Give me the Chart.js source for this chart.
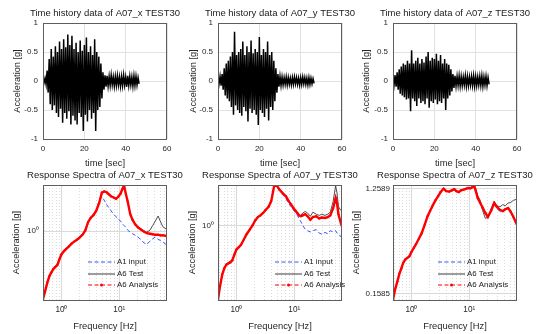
<!DOCTYPE html>
<html>
<head>
<meta charset="utf-8">
<script src="https://cdn.jsdelivr.net/npm/chart.js@4.4.0/dist/chart.umd.min.js"></script>
<style>
  body { margin: 0; background: #fff; width: 539px; height: 334px; overflow: hidden; position: relative; }
  canvas { position: absolute; }
</style>
</head>
<body>
<canvas id="thx"></canvas>
<canvas id="thy"></canvas>
<canvas id="thz"></canvas>
<canvas id="rsx"></canvas>
<canvas id="rsy"></canvas>
<canvas id="rsz"></canvas>
<script>
// ---- time history: peak values per 1 s bin (positive at t, negative at t+0.5) ----
const histSeconds = [0,1,2,3,4,5,6,7,8,9,10,11,12,13,14,15,16,17,18,19,20,21,22,23,24,25,26,27,28,29,30,31,32,33,34,35,36,37,38,39,40,41,42,43,44,45,46];
const xPos = [0.03,0.05,0.18,0.38,0.55,0.42,0.6,0.5,0.68,0.55,0.72,0.58,0.8,0.62,0.78,0.55,0.66,0.5,0.7,0.52,0.62,0.75,0.5,0.6,0.45,0.72,0.5,0.42,0.3,0.15,0.1,0.09,0.08,0.1,0.07,0.08,0.09,0.07,0.08,0.1,0.07,0.09,0.08,0.07,0.09,0.08,0.06];
const xNeg = [-0.03,-0.06,-0.2,-0.4,-0.5,-0.42,-0.55,-0.62,-0.48,-0.72,-0.55,-0.65,-0.52,-0.75,-0.6,-0.68,-0.75,-0.55,-0.62,-0.86,-0.58,-0.7,-0.5,-0.65,-0.55,-0.86,-0.5,-0.45,-0.3,-0.15,-0.1,-0.09,-0.08,-0.07,-0.09,-0.08,-0.07,-0.09,-0.08,-0.07,-0.1,-0.08,-0.07,-0.09,-0.08,-0.07,-0.05];
const yPos = [0.05,0.08,0.12,0.22,0.3,0.35,0.42,0.5,0.85,0.45,0.5,0.55,0.68,0.45,0.6,0.5,0.7,0.48,0.55,0.5,0.76,0.45,0.55,0.5,0.68,0.45,0.5,0.35,0.22,0.12,0.08,0.07,0.06,0.07,0.06,0.05,0.06,0.07,0.06,0.05,0.06,0.07,0.06,0.05,0.06,0.05,0.04];
const yNeg = [-0.05,-0.08,-0.15,-0.25,-0.3,-0.35,-0.45,-0.58,-0.42,-0.5,-0.55,-0.6,-0.45,-0.52,-0.7,-0.48,-0.55,-0.5,-0.58,-0.76,-0.5,-0.55,-0.62,-0.48,-0.68,-0.45,-0.5,-0.35,-0.2,-0.1,-0.08,-0.07,-0.06,-0.07,-0.06,-0.07,-0.06,-0.05,-0.06,-0.07,-0.06,-0.05,-0.06,-0.07,-0.06,-0.05,-0.04];
const zPos = [0.07,0.1,0.15,0.2,0.25,0.3,0.28,0.35,0.3,0.53,0.3,0.35,0.4,0.3,0.38,0.32,0.42,0.5,0.35,0.4,0.38,0.47,0.35,0.45,0.3,0.38,0.3,0.28,0.2,0.12,0.09,0.08,0.09,0.08,0.07,0.09,0.08,0.07,0.08,0.09,0.08,0.07,0.08,0.09,0.07,0.08,0.06];
const zNeg = [-0.07,-0.1,-0.15,-0.22,-0.25,-0.28,-0.32,-0.3,-0.52,-0.3,-0.35,-0.43,-0.3,-0.38,-0.35,-0.4,-0.3,-0.46,-0.35,-0.38,-0.32,-0.4,-0.35,-0.38,-0.3,-0.5,-0.3,-0.25,-0.18,-0.12,-0.09,-0.08,-0.09,-0.08,-0.07,-0.09,-0.08,-0.07,-0.08,-0.09,-0.08,-0.07,-0.08,-0.09,-0.07,-0.08,-0.06];
const histTicksX = [0, 20, 40, 60];
const histTicksY = [-1, -0.5, 0, 0.5, 1];

// ---- response spectra ----
const specFreq = [0.48,0.52,0.57,0.62,0.67,0.72,0.78,0.85,0.92,1.0,1.1,1.2,1.35,1.5,1.7,1.9,2.1,2.35,2.6,2.9,3.2,3.6,4.0,4.5,5.0,5.5,6.0,6.6,7.2,8.0,8.8,9.6,10.5,11.3,12.1,13,14,15.5,17,19,21,24,27,30,34,38,42,47,52,55,58,64,67];
const rsxAnalysis = [0.26,0.30,0.36,0.41,0.44,0.47,0.49,0.51,0.57,0.63,0.67,0.70,0.74,0.78,0.82,0.85,0.89,0.94,1.02,1.2,1.3,1.38,1.5,1.75,2.15,2.2,2.17,2.08,2.0,1.95,1.9,1.98,2.1,2.3,2.48,2.1,1.8,1.4,1.25,1.14,1.08,1.03,0.99,0.96,0.95,0.94,0.93,0.93,0.92,0.92,0.92,0.91,0.9];
const rsxTest     = [0.26,0.31,0.37,0.41,0.45,0.47,0.5,0.52,0.57,0.63,0.67,0.71,0.74,0.79,0.82,0.86,0.9,0.95,1.03,1.21,1.3,1.38,1.5,1.76,2.12,2.2,2.15,2.08,2.0,1.95,1.9,1.98,2.1,2.3,2.5,2.1,1.8,1.42,1.26,1.15,1.09,1.04,1.0,0.98,1.02,1.12,1.22,1.35,1.2,1.13,1.08,1.05,1.06];
const rsxInput    = [0.26,0.30,0.36,0.41,0.44,0.47,0.49,0.51,0.57,0.63,0.67,0.70,0.74,0.78,0.82,0.85,0.89,0.94,1.02,1.2,1.3,1.38,1.5,1.85,1.98,1.85,1.7,1.6,1.5,1.4,1.33,1.28,1.22,1.16,1.12,1.08,1.02,0.98,0.95,0.92,0.89,0.84,0.79,0.77,0.82,0.86,0.89,0.85,0.83,0.82,0.8,0.77,0.76];
const rsyAnalysis = [0.23,0.3,0.38,0.43,0.46,0.47,0.48,0.5,0.56,0.62,0.65,0.68,0.76,0.84,0.92,1.0,1.1,1.18,1.22,1.28,1.36,1.45,1.62,2.2,2.2,2.05,1.95,1.85,1.78,1.62,1.52,1.42,1.34,1.28,1.22,1.2,1.22,1.25,1.2,1.12,1.18,1.2,1.15,1.17,1.16,1.18,1.22,1.4,1.72,1.55,1.25,1.05,0.98];
const rsyTest     = [0.23,0.3,0.38,0.43,0.46,0.48,0.49,0.51,0.56,0.62,0.66,0.69,0.76,0.84,0.93,1.0,1.1,1.19,1.23,1.29,1.37,1.46,1.63,2.2,2.2,2.05,1.95,1.86,1.78,1.63,1.53,1.43,1.35,1.29,1.23,1.22,1.28,1.32,1.28,1.2,1.3,1.25,1.22,1.25,1.22,1.25,1.3,1.6,2.2,1.9,1.45,1.35,1.35];
const rsyInput    = [0.23,0.3,0.38,0.43,0.46,0.47,0.48,0.5,0.56,0.62,0.65,0.68,0.76,0.84,0.92,1.0,1.1,1.18,1.22,1.28,1.36,1.45,1.62,2.2,2.2,2.0,1.9,1.8,1.7,1.55,1.45,1.36,1.3,1.22,1.15,1.08,1.0,0.93,0.9,0.88,0.9,0.92,0.86,0.84,0.87,0.85,0.9,0.88,0.9,0.86,0.85,0.8,0.78];
const rszAnalysis = [0.14,0.17,0.2,0.235,0.26,0.29,0.31,0.32,0.33,0.36,0.39,0.42,0.47,0.52,0.62,0.73,0.81,0.91,1.0,1.09,1.18,1.26,1.2,1.19,1.22,1.25,1.2,1.18,1.22,1.24,1.26,1.28,1.27,1.3,1.34,1.2,1.05,0.95,0.87,0.78,0.72,0.82,0.95,0.88,0.83,0.81,0.84,0.86,0.8,0.76,0.72,0.65,0.62];
const rszTest     = [0.14,0.17,0.2,0.235,0.26,0.29,0.31,0.32,0.33,0.36,0.39,0.42,0.47,0.52,0.62,0.73,0.81,0.91,1.0,1.09,1.18,1.26,1.2,1.19,1.22,1.25,1.2,1.18,1.22,1.24,1.26,1.28,1.28,1.32,1.4,1.25,1.1,1.0,0.82,0.7,0.72,0.85,0.98,0.9,0.88,0.92,0.9,0.95,0.96,0.98,1.0,1.02,1.02];
const rszInput    = [0.14,0.17,0.2,0.235,0.26,0.29,0.31,0.32,0.33,0.36,0.39,0.42,0.47,0.52,0.62,0.73,0.81,0.91,1.0,1.09,1.18,1.26,1.2,1.19,1.22,1.25,1.2,1.18,1.22,1.24,1.26,1.28,1.27,1.3,1.34,1.2,1.05,0.95,0.86,0.76,0.72,0.82,0.94,0.86,0.8,0.79,0.83,0.86,0.8,0.76,0.72,0.65,0.62];
const minorFreq = [0.5,0.6,0.7,0.8,0.9,2,3,4,5,6,7,8,9,20,30,40,50,60];
const legendNames = ['A1 input', 'A6 Test', 'A6 Analysis'];

Chart.defaults.font.family = '"Liberation Sans", Arial, sans-serif';
Chart.defaults.color = '#262626';

const FONT = '"Liberation Sans", Arial, sans-serif';
const SIDE = 42, TOPPAD = 30, XAXIS = 36;

const matlabLook = {
  id: 'matlabLook',
  beforeDatasetsDraw(chart) {
    const o = chart.options.plugins.matlabLook;
    if (!o.minor) return;
    const {ctx, chartArea: a} = chart;
    const xs = chart.scales.x;
    ctx.save();
    ctx.strokeStyle = '#cbcbcb';
    ctx.lineWidth = 0.7;
    ctx.setLineDash([1, 2]);
    minorFreq.forEach(f => {
      const px = Math.round(xs.getPixelForValue(f)) + 0.5;
      if (px <= a.left || px >= a.right) return;
      ctx.beginPath();
      ctx.moveTo(px, a.top);
      ctx.lineTo(px, a.bottom);
      ctx.stroke();
    });
    ctx.restore();
  },
  afterDraw(chart) {
    const o = chart.options.plugins.matlabLook;
    const {ctx, chartArea: a} = chart;
    ctx.save();
    ctx.strokeStyle = '#5e5e5e';
    ctx.lineWidth = 1;
    ctx.setLineDash([]);
    ctx.strokeRect(a.left + 0.5, a.top + 0.5, a.right - a.left - 1, a.bottom - a.top);
    ctx.fillStyle = '#1a1a1a';
    ctx.font = '9.5px ' + FONT;
    ctx.textAlign = 'center';
    ctx.textBaseline = 'middle';
    ctx.fillText(o.title, (a.left + a.right) / 2, a.top - 10);
    if (o.legendX !== undefined) {
      const styles = [
        {color: '#1f3fff', dash: [4, 2.5], dot: false, w: 0.9},
        {color: '#3a3a3a', dash: [], dot: false, w: 1},
        {color: '#ff0000', dash: [4, 2.5], dot: true, w: 1}
      ];
      const rows = [77, 89, 100];
      ctx.font = '7.9px ' + FONT;
      ctx.textAlign = 'left';
      legendNames.forEach((name, i) => {
        const s = styles[i];
        const y = a.top + rows[i];
        const x0 = a.left + o.legendX;
        ctx.strokeStyle = s.color;
        ctx.lineWidth = s.w;
        ctx.setLineDash(s.dash);
        ctx.beginPath();
        ctx.moveTo(x0, y);
        ctx.lineTo(x0 + 27, y);
        ctx.stroke();
        if (s.dot) {
          ctx.fillStyle = s.color;
          ctx.beginPath();
          ctx.arc(x0 + 13.5, y, 1.5, 0, Math.PI * 2);
          ctx.fill();
        }
        ctx.fillStyle = '#1a1a1a';
        ctx.fillText(name, x0 + 29, y);
      });
    }
    ctx.restore();
  }
};

function place(id, L, T, W, H) {
  const c = document.getElementById(id);
  c.width = W + 2 * SIDE;
  c.height = H + TOPPAD + XAXIS;
  c.style.left = (L - SIDE) + 'px';
  c.style.top = (T - TOPPAD) + 'px';
  c.style.width = c.width + 'px';
  c.style.height = c.height + 'px';
  return c;
}

function historyPoints(pos, neg) {
  const pts = [];
  histSeconds.forEach((t, k) => {
    pts.push({x: t, y: pos[k]});
    pts.push({x: t + 0.5, y: neg[k]});
  });
  return pts;
}

function historyChart(id, L, title, pos, neg, yTitlePad) {
  const c = place(id, L, 23, 124, 116);
  return new Chart(c, {
    type: 'line',
    data: {
      datasets: [{
        data: historyPoints(pos, neg),
        borderColor: '#000',
        borderWidth: 1.5,
        pointRadius: 0,
        tension: 0
      }]
    },
    options: {
      responsive: false,
      animation: false,
      layout: {padding: {top: TOPPAD, right: SIDE, left: 0, bottom: 0}},
      plugins: {legend: {display: false}, tooltip: {enabled: false}, matlabLook: {title}},
      scales: {
        x: {
          type: 'linear', min: 0, max: 60,
          afterBuildTicks: s => { s.ticks = histTicksX.map(v => ({value: v})); },
          afterFit: s => { s.height = XAXIS; },
          grid: {color: '#e2e2e2', drawTicks: false},
          border: {display: false},
          ticks: {font: {size: 8}, padding: 5.2, autoSkip: false, maxRotation: 0,
            callback: v => String(v)},
          title: {display: true, text: 'time [sec]', font: {size: 9.4}, padding: {top: 0, bottom: 6.4}}
        },
        y: {
          type: 'linear', min: -1, max: 1,
          afterBuildTicks: s => { s.ticks = histTicksY.map(v => ({value: v})); },
          afterFit: s => { s.width = SIDE; },
          grid: {color: '#e2e2e2', drawTicks: false},
          border: {display: false},
          ticks: {font: {size: 8}, padding: 5, autoSkip: false, callback: v => String(v)},
          title: {display: true, text: 'Acceleration [g]', font: {size: 9.2}, padding: {top: yTitlePad, bottom: 0}}
        }
      }
    },
    plugins: [matlabLook]
  });
}

function spectraChart(id, L, title, ymin, ymax, yTicks, yLabels, analysis, test, input, legendX, yTitlePad, yTickPad) {
  const c = place(id, L, 185, 124, 115);
  const pts = arr => specFreq.map((f, i) => ({x: f, y: arr[i]}));
  return new Chart(c, {
    type: 'line',
    data: {
      datasets: [
        {label: 'A6 Analysis', data: pts(analysis), borderColor: '#ff0000', backgroundColor: '#ff0000',
          borderWidth: 2.4, pointRadius: 1.1, pointBorderWidth: 0, tension: 0, order: 0},
        {label: 'A6 Test', data: pts(test), borderColor: '#3a3a3a', borderWidth: 0.9,
          pointRadius: 0, tension: 0, order: 1},
        {label: 'A1 input', data: pts(input), borderColor: '#1f3fff', borderWidth: 0.9,
          borderDash: [4, 2.5], pointRadius: 0, tension: 0, order: 2}
      ]
    },
    options: {
      responsive: false,
      animation: false,
      layout: {padding: {top: TOPPAD, right: SIDE, left: 0, bottom: 0}},
      plugins: {legend: {display: false}, tooltip: {enabled: false}, matlabLook: {title, minor: true, legendX}},
      scales: {
        x: {
          type: 'logarithmic', min: 0.48, max: 67,
          afterBuildTicks: s => { s.ticks = [{value: 1}, {value: 10}]; },
          afterFit: s => { s.height = XAXIS; },
          grid: {color: '#dadada', drawTicks: false},
          border: {display: false},
          ticks: {font: {size: 8.2}, padding: 5.2, autoSkip: false, maxRotation: 0,
            callback: v => v === 1 ? '10\u2070' : (v === 10 ? '10\u00b9' : '')},
          title: {display: true, text: 'Frequency [Hz]', font: {size: 9.4}, padding: {top: 0, bottom: 4.4}}
        },
        y: {
          type: 'logarithmic', min: ymin, max: ymax,
          afterBuildTicks: s => { s.ticks = yTicks.map(v => ({value: v})); },
          afterFit: s => { s.width = SIDE; },
          grid: {color: '#dadada', drawTicks: false},
          border: {display: false},
          ticks: {font: {size: 8}, padding: yTickPad, autoSkip: false,
            callback: (v, i) => yLabels[i]},
          title: {display: true, text: 'Acceleration [g]', font: {size: 9.2}, padding: {top: yTitlePad, bottom: 0}}
        }
      }
    },
    plugins: [matlabLook]
  });
}

historyChart('thx', 43, 'Time history data of A07_x TEST30', xPos, xNeg, 11.4);
historyChart('thy', 218, 'Time history data of A07_y TEST30', yPos, yNeg, 12.4);
historyChart('thz', 393, 'Time history data of A07_z TEST30', zPos, zNeg, 10.4);

spectraChart('rsx', 43, 'Response Spectra of A07_x TEST30', 0.255, 2.5, [1], ['10\u2070'],
  rsxAnalysis, rsxTest, rsxInput, 45, 10.4, 4);
spectraChart('rsy', 218, 'Response Spectra of A07_y TEST30', 0.228, 2.23, [1], ['10\u2070'],
  rsyAnalysis, rsyTest, rsyInput, 57, 11.4, 4);
spectraChart('rsz', 393, 'Response Spectra of A07_z TEST30', 0.139, 1.357, [0.1585, 1.2589], ['0.1585', '1.2589'],
  rszAnalysis, rszTest, rszInput, 45, 0.4, 3);
</script>
</body>
</html>
